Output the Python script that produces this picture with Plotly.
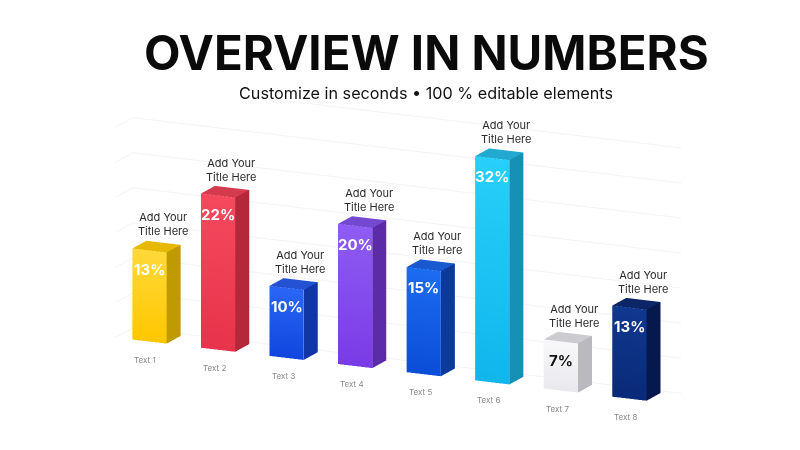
import plotly.graph_objects as go

# data
categories = ["Text 1", "Text 2", "Text 3", "Text 4", "Text 5", "Text 6", "Text 7", "Text 8"]
values = [13, 22, 10, 20, 15, 32, 7, 13]
titles = ["Add Your<br>Title Here"] * 8

front_top = ["#FFD83A", "#F5495E", "#2A66F6", "#8E5CF3", "#1C6CF2", "#28CFF9", "#F8F8FA", "#10388F"]
front_bottom = ["#FFC700", "#E7334B", "#1046DE", "#7A3BE6", "#0B4DD6", "#10B6EC", "#E9E9ED", "#0A2A78"]
side_colors = ["#BF9A00", "#B5283A", "#1136A6", "#5B2BA8", "#0B3A9B", "#1790B6", "#B9B9BF", "#06194F"]
top_colors = ["#E6B900", "#D43B4E", "#2452D2", "#7449D2", "#1A58D0", "#22A9D2", "#CBCBD0", "#0B2566"]
pct_colors = ["white", "white", "white", "white", "white", "white", "#111111", "white"]

step = 2.0   # distance between bars
width = 1.0
depth = 0.8

fig = go.Figure()

for i, v in enumerate(values):
    x0 = i * step
    x1 = x0 + width
    # front face, right face, top face (4 vertices each)
    xs = [x0, x1, x1, x0,  x1, x1, x1, x1,  x0, x1, x1, x0]
    ys = [0, 0, 0, 0,  0, depth, depth, 0,  0, 0, depth, depth]
    zs = [0, 0, v, v,  0, 0, v, v,  v, v, v, v]
    cols = [front_bottom[i], front_bottom[i], front_top[i], front_top[i]] + [side_colors[i]] * 4 + [top_colors[i]] * 4
    fig.add_trace(go.Mesh3d(
        x=xs, y=ys, z=zs,
        i=[0, 0, 4, 4, 8, 8],
        j=[1, 2, 5, 6, 9, 10],
        k=[2, 3, 6, 7, 10, 11],
        vertexcolor=cols,
        flatshading=True,
        lighting=dict(ambient=1, diffuse=0, specular=0, fresnel=0, roughness=1),
        hoverinfo="skip",
        showscale=False,
    ))

annots = []
for i, v in enumerate(values):
    x0 = i * step
    annots.append(dict(x=x0 + width * 0.7, y=depth / 2, z=v, text=titles[i], showarrow=False,
                       yanchor="bottom", yshift=7,
                       font=dict(family="Inter", size=11, color="#2b2b2b")))
    annots.append(dict(x=x0 + width / 2, y=0, z=v, text="<b>%d%%</b>" % v, showarrow=False,
                       yanchor="top", yshift=-7,
                       font=dict(family="Inter", size=15, color=pct_colors[i])))
    annots.append(dict(x=x0, y=0, z=0, text=categories[i], showarrow=False,
                       xanchor="left", yanchor="top", yshift=-13,
                       font=dict(family="Inter", size=8, color="#8a8a8a")))

fig.update_layout(
    width=800, height=450,
    margin=dict(l=0, r=0, t=0, b=0),
    paper_bgcolor="white",
    showlegend=False,
    scene=dict(
        domain=dict(x=[0.0, 1.0], y=[0.0, 0.8]),
        xaxis=dict(range=[-0.5, 15.5], visible=False),
        yaxis=dict(range=[0, 1.0], visible=False),
        zaxis=dict(range=[0, 35], showgrid=True, gridcolor="#f3f3f6", showticklabels=False,
                   title="", showbackground=False, zeroline=False, showline=False, ticks="",
                   showspikes=False),
        aspectmode="manual",
        aspectratio=dict(x=3.36, y=0.23, z=1.41),
        camera=dict(eye=dict(x=0.525, y=-1.0, z=0.096), up=dict(x=0, y=0, z=1),
                    center=dict(x=0.06, y=0, z=-0.196),
                    projection=dict(type="orthographic")),
        annotations=annots,
    ),
    annotations=[
        dict(x=0.5225, y=0.9, xref="paper", yref="paper", yanchor="middle",
             text="<b>OVERVIEW IN NUMBERS</b>",
             showarrow=False, font=dict(family="Inter", size=47.4, color="#0a0a0a")),
        dict(x=0.5225, y=0.811, xref="paper", yref="paper", yanchor="middle",
             text="Customize in seconds • 100 % editable elements",
             showarrow=False, font=dict(family="Inter", size=16.2, color="#111111")),
    ],
)

fig.write_html("out.html")
